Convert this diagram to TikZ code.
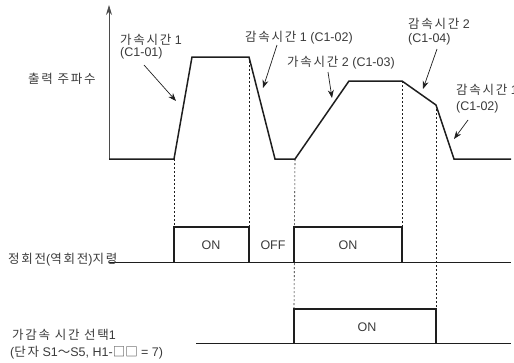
\documentclass[tikz,border=0pt]{standalone}
\usepackage{fontspec}
\setmainfont{Liberation Sans}
\newfontfamily\kr[LetterSpace=14]{Noto Sans CJK KR}
\newfontfamily\krsym{Noto Sans CJK KR}
\usetikzlibrary{arrows.meta}
\definecolor{txt}{HTML}{3A3A3A}
\definecolor{ink}{HTML}{1E1E1E}
\begin{document}
\begin{tikzpicture}[x=1pt,y=-1pt,
  lbl/.style={font=\fontsize{12.5}{14}\selectfont, text=txt, inner sep=0pt, anchor=west},
  onlbl/.style={font=\fontsize{12.5}{14}\selectfont, text=txt, inner sep=0pt},
  trace/.style={draw=ink, line width=1.5pt, line join=miter},
  thinbase/.style={draw=ink, line width=0.8pt},
  axisline/.style={draw=ink!80, line width=0.8pt, -{Stealth[length=10pt,width=6pt]}},
  guide/.style={draw=ink, line width=0.6pt, dash pattern=on 2pt off 2pt},
  ptr/.style={draw=ink, line width=0.7pt, -{Stealth[length=8pt,width=6pt]}}]
\useasboundingbox (0,0) rectangle (514,362);
% frequency trace coordinates
\coordinate (o) at (109,159);
\coordinate (ytop) at (109,5);
\coordinate (f0) at (174,159);
\coordinate (f1) at (192,57);
\coordinate (f2) at (249,57);
\coordinate (f3) at (275,159);
\coordinate (f4) at (295,159);
\coordinate (f5) at (349,81);
\coordinate (f6) at (402,81);
\coordinate (f7) at (436,105);
\coordinate (f8) at (454,159);
\coordinate (fend) at (511,159);
% axis
\draw[axisline] (o) -- (ytop);
% trace
\draw[trace] (o) -- (f0) -- (f1) -- (f2) -- (f3) -- (f4) -- (f5) -- (f6) -- (f7) -- (f8) -- (fend);
% signal 1
\coordinate (s1l) at (109,262);
\coordinate (s1r) at (511,262);
\coordinate (p1a) at (174,262);
\coordinate (p1b) at (174,227);
\coordinate (p1c) at (249,227);
\coordinate (p1d) at (249,262);
\coordinate (p2a) at (294,262);
\coordinate (p2b) at (294,227);
\coordinate (p2c) at (402,227);
\coordinate (p2d) at (402,262);
\draw[thinbase] (s1l) -- (s1r);
\draw[trace] (p1a) -- (p1b) -- (p1c) -- (p1d);
\draw[trace] (p2a) -- (p2b) -- (p2c) -- (p2d);
% signal 2
\coordinate (s2l) at (196,343);
\coordinate (s2r) at (511,343);
\coordinate (q1a) at (294,343);
\coordinate (q1b) at (294,309);
\coordinate (q1c) at (436,309);
\coordinate (q1d) at (436,343);
\draw[thinbase] (s2l) -- (s2r);
\draw[trace] (q1a) -- (q1b) -- (q1c) -- (q1d);
% guides
\draw[guide] (f0) -- (p1b);
\draw[guide] (f2) -- (p1c);
\draw[guide] (f4) -- (q1b);
\draw[guide] (f6) -- (p2c);
\draw[guide] (f7) -- (q1c);
% labels
\node[lbl] (lf) at (28,79) {{\kr 출력 주파수}};
\node[lbl] (la1) at (120,40) {{\kr 가속시간} 1};
\node[lbl] (la1b) at (120,53) {(C1-01)};
\node[lbl] (ld1) at (245,38) {{\kr 감속시간} 1 (C1-02)};
\node[lbl] (la2) at (287,63) {{\kr 가속시간} 2 (C1-03)};
\node[lbl] (ld2) at (408,24) {{\kr 감속시간} 2};
\node[lbl] (ld2b) at (408,39) {(C1-04)};
\node[lbl] (ld3) at (456,90) {{\kr 감속시간} 1};
\node[lbl] (ld3b) at (456,107) {(C1-02)};
\node[lbl] (sg1) at (8,260) {{\kr 정회전}({\kr 역회전}){\kr 지령}};
\node[lbl] (sg2a) at (12,335) {{\kr 가감속 시간 선택}1};
\node[lbl] (sg2b) at (10,353) {({\kr 단자} S1{\krsym ～}S5, H1-{\krsym □□} = 7)};
\node[onlbl] (on1) at (211,245) {ON};
\node[onlbl] (off1) at (273,245) {OFF};
\node[onlbl] (on2) at (348,245) {ON};
\node[onlbl] (on3) at (367,327) {ON};
% pointers
\coordinate (a1s) at (144,65); \coordinate (a1e) at (176,101);
\coordinate (a2s) at (277,45); \coordinate (a2e) at (263,88);
\coordinate (a3s) at (328,72); \coordinate (a3e) at (332,98);
\coordinate (a4s) at (437,49); \coordinate (a4e) at (423,89);
\coordinate (a5s) at (468,120); \coordinate (a5e) at (454,139);
\draw[ptr] (a1s) -- (a1e);
\draw[ptr] (a2s) -- (a2e);
\draw[ptr] (a3s) -- (a3e);
\draw[ptr] (a4s) -- (a4e);
\draw[ptr] (a5s) -- (a5e);
\end{tikzpicture}
\end{document}
